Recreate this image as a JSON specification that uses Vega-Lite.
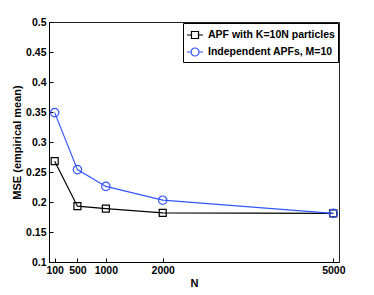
{
  "$schema": "https://vega.github.io/schema/vega-lite/v6.json",
  "width": 290,
  "height": 240,
  "autosize": "none",
  "padding": {"left": 49, "top": 22, "right": 35, "bottom": 33},
  "background": "white",
  "config": {
    "font": "Liberation Sans",
    "view": {"stroke": "#222", "strokeWidth": 1},
    "axis": {
      "domainColor": "#000",
      "tickColor": "#000",
      "tickSize": -4,
      "labelColor": "#000",
      "labelFontWeight": "bold",
      "labelFontSize": 10.5,
      "titleColor": "#000",
      "titleFontWeight": "bold",
      "titleFontSize": 11,
      "grid": false
    }
  },
  "data": {
    "values": [
      {"N": 100, "MSE": 0.268, "series": "APF with K=10N particles"},
      {"N": 500, "MSE": 0.193, "series": "APF with K=10N particles"},
      {"N": 1000, "MSE": 0.189, "series": "APF with K=10N particles"},
      {"N": 2000, "MSE": 0.182, "series": "APF with K=10N particles"},
      {"N": 5000, "MSE": 0.181, "series": "APF with K=10N particles"},
      {"N": 100, "MSE": 0.349, "series": "Independent APFs, M=10"},
      {"N": 500, "MSE": 0.254, "series": "Independent APFs, M=10"},
      {"N": 1000, "MSE": 0.226, "series": "Independent APFs, M=10"},
      {"N": 2000, "MSE": 0.203, "series": "Independent APFs, M=10"},
      {"N": 5000, "MSE": 0.181, "series": "Independent APFs, M=10"}
    ]
  },
  "encoding": {
    "x": {
      "field": "N", "type": "quantitative",
      "scale": {"domain": [0, 5100], "nice": false, "zero": false},
      "axis": {"values": [100, 500, 1000, 2000, 5000], "title": "N", "labelPadding": 7, "titlePadding": 2, "format": "d"}
    },
    "y": {
      "field": "MSE", "type": "quantitative",
      "scale": {"domain": [0.1, 0.5], "nice": false, "zero": false},
      "axis": {"values": [0.1, 0.15, 0.2, 0.25, 0.3, 0.35, 0.4, 0.45, 0.5], "format": ".2~f", "title": "MSE (empirical mean)", "labelPadding": 7, "titlePadding": 3}
    },
    "color": {
      "field": "series", "type": "nominal",
      "scale": {"domain": ["APF with K=10N particles", "Independent APFs, M=10"], "range": ["#000000", "#3355ff"]},
      "legend": {
        "title": null,
        "orient": "none",
        "legendX": 134,
        "legendY": 1,
        "strokeColor": "#000",
        "fillColor": "white",
        "padding": 3,
        "rowPadding": 2,
        "labelFontSize": 10.5,
        "labelFontWeight": "bold",
        "labelColor": "#000",
        "symbolStrokeWidth": 1.2,
        "encode": {
          "symbols": {
            "update": {
              "shape": {"signal": "datum.value === 'APF with K=10N particles' ? 'M-1,0H-0.44M0.44,0H1M-0.44,-0.44H0.44V0.44H-0.44Z' : 'M-1,0H-0.5M0.5,0H1M-0.5,0A0.5,0.5 0 1,0 0.5,0A0.5,0.5 0 1,0 -0.5,0Z'"},
              "size": {"value": 256},
              "fill": {"value": "transparent"}
            }
          }
        }
      }
    }
  },
  "layer": [
    {"mark": {"type": "line", "strokeWidth": 1.2}},
    {
      "transform": [{"filter": "datum.series === 'APF with K=10N particles'"}],
      "mark": {"type": "point", "shape": "square", "size": 49, "filled": false, "strokeWidth": 1.2, "opacity": 1}
    },
    {
      "transform": [{"filter": "datum.series === 'Independent APFs, M=10'"}],
      "mark": {"type": "point", "shape": "circle", "size": 70, "filled": false, "strokeWidth": 1.2, "opacity": 1}
    }
  ]
}
